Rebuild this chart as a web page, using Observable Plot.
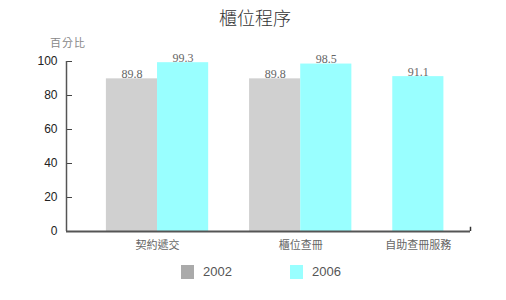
<!DOCTYPE html>
<html>
<head>
<meta charset="utf-8">
<script src="https://cdn.jsdelivr.net/npm/d3@7"></script>
<script src="https://cdn.jsdelivr.net/npm/@observablehq/plot@0.6"></script>
<style>
  body { margin: 0; background: #fff; }
  #wrap { position: relative; width: 506px; height: 300px; overflow: hidden; }
  #wrap svg { position: absolute; left: 0; top: 0; }
  .title { position: absolute; left: 0; width: 510px; top: 5px; text-align: center;
           font-family: "Noto Sans CJK TC", sans-serif; font-size: 18px; font-weight: 300; color: #333; line-height: 24px; }
  .unit { position: absolute; left: 50px; top: 34px; font-family: "Noto Sans CJK TC", sans-serif;
          font-size: 11px; letter-spacing: 1px; color: #888; line-height: 16px; }
  .legend { position: absolute; top: 264px; left: 0; font-family: "Liberation Sans", Arial, sans-serif; font-size: 13px; color: #555; }
  .item { position: absolute; display: flex; align-items: center; white-space: nowrap; }
  .sw { width: 13px; height: 14px; margin-right: 9px; }
</style>
</head>
<body>
<div id="wrap"></div>
<script>
const categories = ["契約遞交", "櫃位查冊", "自助查冊服務"];
const series = ["2002", "2006"];
const values2002 = [89.8, 89.8, null];
const values2006 = [99.3, 98.5, 91.1];
const yTicks = [0, 20, 40, 60, 80, 100];
const barColors = {"2002": "#d0d0d0", "2006": "#99ffff"};
const legendColors = {"2002": "#aaaaaa", "2006": "#99ffff"};

// build bar table: bars within a group are contiguous, groups separated by a gap
const gap = 0.8;
const bars = [];
const groups = [];
let cursor = 0;
categories.forEach((c, i) => {
  const vals = {"2002": values2002[i], "2006": values2006[i]};
  const present = series.filter(s => vals[s] != null);
  const start = cursor;
  present.forEach(s => {
    bars.push({category: c, series: s, value: vals[s], x1: cursor, x2: cursor + 1});
    cursor += 1;
  });
  groups.push({category: c, center: (start + cursor) / 2});
  cursor += gap;
});
const xEnd = cursor - gap;
const xDomain = [-0.78, xEnd + 0.52];

const wrap = document.getElementById("wrap");

const chart = Plot.plot({
  width: 506,
  height: 300,
  marginLeft: 66,
  marginRight: 36,
  marginTop: 61,
  marginBottom: 69,
  x: {domain: xDomain, axis: null},
  y: {domain: [0, 100], axis: null},
  style: {background: "transparent"},
  marks: [
    Plot.rectY(bars, {x1: "x1", x2: "x2", y1: 0, y2: "value", fill: d => barColors[d.series]}),
    Plot.text(bars, {x: d => (d.x1 + d.x2) / 2, y: "value", text: d => d.value.toFixed(1),
      lineAnchor: "bottom", dy: -1, fill: "#666", fontSize: 12, fontFamily: "Liberation Serif, serif"}),
    Plot.axisY(yTicks, {tickSize: 6, dx: 6, text: null, label: null, stroke: "#444"}),
    Plot.axisY(yTicks, {tickSize: 0, tickPadding: 9, label: null, fill: "#222",
      fontSize: 12, fontFamily: "Liberation Sans, Arial, sans-serif"}),
    Plot.ruleX([xDomain[0]], {y1: 0, y2: 100, stroke: "#555", strokeWidth: 1.5}),
    Plot.ruleY([0], {stroke: "#555", strokeWidth: 2}),
    Plot.ruleX([xDomain[1]], {y1: 0, y2: 2.5, stroke: "#333", strokeWidth: 1.5}),
    Plot.text(groups, {x: "center", y: 0, text: "category", dy: 14, lineAnchor: "middle",
      fill: "#666", fontSize: 11, fontFamily: "Noto Sans CJK TC, sans-serif",
      style: "letter-spacing:1px"})
  ]
});
wrap.appendChild(chart);

const title = document.createElement("div");
title.className = "title";
title.textContent = "櫃位程序";
wrap.appendChild(title);

const unit = document.createElement("div");
unit.className = "unit";
unit.textContent = "百分比";
wrap.appendChild(unit);

const legend = document.createElement("div");
legend.className = "legend";
const legendLeft = {"2002": 181, "2006": 290};
series.forEach(s => {
  const it = document.createElement("div");
  it.className = "item";
  it.style.left = legendLeft[s] + "px";
  const sw = document.createElement("span");
  sw.className = "sw";
  sw.style.background = legendColors[s];
  const t = document.createElement("span");
  t.textContent = s;
  it.appendChild(sw); it.appendChild(t);
  legend.appendChild(it);
});
wrap.appendChild(legend);
</script>
</body>
</html>
